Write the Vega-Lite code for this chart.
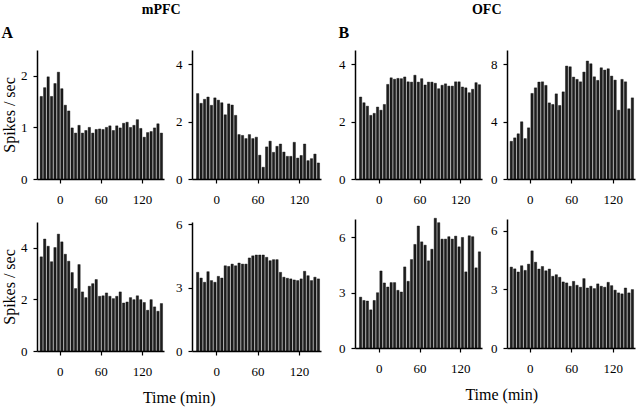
{
"$schema":"https://vega.github.io/schema/vega-lite/v6.json",
"padding":{"left":1,"top":3,"right":3,"bottom":1},
"data":{"values":[
{"p":1,"t0":-30,"t1":-25,"r":1.6},{"p":1,"t0":-25,"t1":-20,"r":1.77},{"p":1,"t0":-20,"t1":-15,"r":1.98},{"p":1,"t0":-15,"t1":-10,"r":1.6},{"p":1,"t0":-10,"t1":-5,"r":1.85},{"p":1,"t0":-5,"t1":0,"r":2.07},{"p":1,"t0":0,"t1":5,"r":1.75},{"p":1,"t0":5,"t1":10,"r":1.43},{"p":1,"t0":10,"t1":15,"r":1.32},{"p":1,"t0":15,"t1":20,"r":0.99},{"p":1,"t0":20,"t1":25,"r":0.89},{"p":1,"t0":25,"t1":30,"r":1.04},{"p":1,"t0":30,"t1":35,"r":0.89},{"p":1,"t0":35,"t1":40,"r":0.94},{"p":1,"t0":40,"t1":45,"r":1.0},{"p":1,"t0":45,"t1":50,"r":0.89},{"p":1,"t0":50,"t1":55,"r":0.96},{"p":1,"t0":55,"t1":60,"r":0.97},{"p":1,"t0":60,"t1":65,"r":0.96},{"p":1,"t0":65,"t1":70,"r":1.0},{"p":1,"t0":70,"t1":75,"r":1.03},{"p":1,"t0":75,"t1":80,"r":0.94},{"p":1,"t0":80,"t1":85,"r":1.03},{"p":1,"t0":85,"t1":90,"r":0.99},{"p":1,"t0":90,"t1":95,"r":1.08},{"p":1,"t0":95,"t1":100,"r":1.1},{"p":1,"t0":100,"t1":105,"r":1.0},{"p":1,"t0":105,"t1":110,"r":1.04},{"p":1,"t0":110,"t1":115,"r":1.15},{"p":1,"t0":115,"t1":120,"r":0.98},{"p":1,"t0":120,"t1":125,"r":0.81},{"p":1,"t0":125,"t1":130,"r":0.9},{"p":1,"t0":130,"t1":135,"r":0.92},{"p":1,"t0":135,"t1":140,"r":0.99},{"p":1,"t0":140,"t1":145,"r":1.07},{"p":1,"t0":145,"t1":150,"r":0.89},
{"p":2,"t0":-30,"t1":-25,"r":2.98},{"p":2,"t0":-25,"t1":-20,"r":2.64},{"p":2,"t0":-20,"t1":-15,"r":2.78},{"p":2,"t0":-15,"t1":-10,"r":2.86},{"p":2,"t0":-10,"t1":-5,"r":2.57},{"p":2,"t0":-5,"t1":0,"r":2.83},{"p":2,"t0":0,"t1":5,"r":2.75},{"p":2,"t0":5,"t1":10,"r":2.66},{"p":2,"t0":10,"t1":15,"r":2.24},{"p":2,"t0":15,"t1":20,"r":2.62},{"p":2,"t0":20,"t1":25,"r":2.58},{"p":2,"t0":25,"t1":30,"r":2.22},{"p":2,"t0":30,"t1":35,"r":1.55},{"p":2,"t0":35,"t1":40,"r":1.52},{"p":2,"t0":40,"t1":45,"r":1.41},{"p":2,"t0":45,"t1":50,"r":1.55},{"p":2,"t0":50,"t1":55,"r":1.41},{"p":2,"t0":55,"t1":60,"r":1.46},{"p":2,"t0":60,"t1":65,"r":0.83},{"p":2,"t0":65,"t1":70,"r":0.41},{"p":2,"t0":70,"t1":75,"r":1.12},{"p":2,"t0":75,"t1":80,"r":1.32},{"p":2,"t0":80,"t1":85,"r":0.93},{"p":2,"t0":85,"t1":90,"r":1.14},{"p":2,"t0":90,"t1":95,"r":1.22},{"p":2,"t0":95,"t1":100,"r":0.94},{"p":2,"t0":100,"t1":105,"r":0.79},{"p":2,"t0":105,"t1":110,"r":0.79},{"p":2,"t0":110,"t1":115,"r":1.28},{"p":2,"t0":115,"t1":120,"r":0.73},{"p":2,"t0":120,"t1":125,"r":0.82},{"p":2,"t0":125,"t1":130,"r":1.22},{"p":2,"t0":130,"t1":135,"r":0.64},{"p":2,"t0":135,"t1":140,"r":0.71},{"p":2,"t0":140,"t1":145,"r":0.87},{"p":2,"t0":145,"t1":150,"r":0.56},
{"p":3,"t0":-30,"t1":-25,"r":2.86},{"p":3,"t0":-25,"t1":-20,"r":2.66},{"p":3,"t0":-20,"t1":-15,"r":2.54},{"p":3,"t0":-15,"t1":-10,"r":2.22},{"p":3,"t0":-10,"t1":-5,"r":2.29},{"p":3,"t0":-5,"t1":0,"r":2.51},{"p":3,"t0":0,"t1":5,"r":2.4},{"p":3,"t0":5,"t1":10,"r":2.6},{"p":3,"t0":10,"t1":15,"r":3.3},{"p":3,"t0":15,"t1":20,"r":3.53},{"p":3,"t0":20,"t1":25,"r":3.48},{"p":3,"t0":25,"t1":30,"r":3.51},{"p":3,"t0":30,"t1":35,"r":3.5},{"p":3,"t0":35,"t1":40,"r":3.56},{"p":3,"t0":40,"t1":45,"r":3.39},{"p":3,"t0":45,"t1":50,"r":3.38},{"p":3,"t0":50,"t1":55,"r":3.62},{"p":3,"t0":55,"t1":60,"r":3.38},{"p":3,"t0":60,"t1":65,"r":3.5},{"p":3,"t0":65,"t1":70,"r":3.28},{"p":3,"t0":70,"t1":75,"r":3.38},{"p":3,"t0":75,"t1":80,"r":3.38},{"p":3,"t0":80,"t1":85,"r":3.34},{"p":3,"t0":85,"t1":90,"r":3.15},{"p":3,"t0":90,"t1":95,"r":3.27},{"p":3,"t0":95,"t1":100,"r":3.32},{"p":3,"t0":100,"t1":105,"r":3.24},{"p":3,"t0":105,"t1":110,"r":3.24},{"p":3,"t0":110,"t1":115,"r":3.39},{"p":3,"t0":115,"t1":120,"r":3.39},{"p":3,"t0":120,"t1":125,"r":3.21},{"p":3,"t0":125,"t1":130,"r":3.18},{"p":3,"t0":130,"t1":135,"r":3.01},{"p":3,"t0":135,"t1":140,"r":3.13},{"p":3,"t0":140,"t1":145,"r":3.36},{"p":3,"t0":145,"t1":150,"r":3.29},
{"p":4,"t0":-30,"t1":-25,"r":2.63},{"p":4,"t0":-25,"t1":-20,"r":2.87},{"p":4,"t0":-20,"t1":-15,"r":3.15},{"p":4,"t0":-15,"t1":-10,"r":3.99},{"p":4,"t0":-10,"t1":-5,"r":2.82},{"p":4,"t0":-5,"t1":0,"r":3.57},{"p":4,"t0":0,"t1":5,"r":5.97},{"p":4,"t0":5,"t1":10,"r":6.36},{"p":4,"t0":10,"t1":15,"r":6.76},{"p":4,"t0":15,"t1":20,"r":6.78},{"p":4,"t0":20,"t1":25,"r":6.53},{"p":4,"t0":25,"t1":30,"r":5.31},{"p":4,"t0":30,"t1":35,"r":5.2},{"p":4,"t0":35,"t1":40,"r":5.94},{"p":4,"t0":40,"t1":45,"r":5.13},{"p":4,"t0":45,"t1":50,"r":6.08},{"p":4,"t0":50,"t1":55,"r":7.88},{"p":4,"t0":55,"t1":60,"r":7.83},{"p":4,"t0":60,"t1":65,"r":7.11},{"p":4,"t0":65,"t1":70,"r":6.95},{"p":4,"t0":70,"t1":75,"r":6.78},{"p":4,"t0":75,"t1":80,"r":7.46},{"p":4,"t0":80,"t1":85,"r":8.23},{"p":4,"t0":85,"t1":90,"r":8.04},{"p":4,"t0":90,"t1":95,"r":7.13},{"p":4,"t0":95,"t1":100,"r":6.88},{"p":4,"t0":100,"t1":105,"r":7.76},{"p":4,"t0":105,"t1":110,"r":7.6},{"p":4,"t0":110,"t1":115,"r":7.69},{"p":4,"t0":115,"t1":120,"r":7.18},{"p":4,"t0":120,"t1":125,"r":6.9},{"p":4,"t0":125,"t1":130,"r":4.8},{"p":4,"t0":130,"t1":135,"r":6.95},{"p":4,"t0":135,"t1":140,"r":6.78},{"p":4,"t0":140,"t1":145,"r":4.9},{"p":4,"t0":145,"t1":150,"r":5.66},
{"p":5,"t0":-30,"t1":-25,"r":3.65},{"p":5,"t0":-25,"t1":-20,"r":4.34},{"p":5,"t0":-20,"t1":-15,"r":4.06},{"p":5,"t0":-15,"t1":-10,"r":3.46},{"p":5,"t0":-10,"t1":-5,"r":4.01},{"p":5,"t0":-5,"t1":0,"r":4.53},{"p":5,"t0":0,"t1":5,"r":4.23},{"p":5,"t0":5,"t1":10,"r":3.75},{"p":5,"t0":10,"t1":15,"r":3.48},{"p":5,"t0":15,"t1":20,"r":3.04},{"p":5,"t0":20,"t1":25,"r":2.42},{"p":5,"t0":25,"t1":30,"r":3.35},{"p":5,"t0":30,"t1":35,"r":2.29},{"p":5,"t0":35,"t1":40,"r":2.07},{"p":5,"t0":40,"t1":45,"r":2.51},{"p":5,"t0":45,"t1":50,"r":2.61},{"p":5,"t0":50,"t1":55,"r":2.77},{"p":5,"t0":55,"t1":60,"r":2.12},{"p":5,"t0":60,"t1":65,"r":2.14},{"p":5,"t0":65,"t1":70,"r":2.25},{"p":5,"t0":70,"t1":75,"r":2.12},{"p":5,"t0":75,"t1":80,"r":2.03},{"p":5,"t0":80,"t1":85,"r":2.12},{"p":5,"t0":85,"t1":90,"r":2.29},{"p":5,"t0":90,"t1":95,"r":1.86},{"p":5,"t0":95,"t1":100,"r":1.9},{"p":5,"t0":100,"t1":105,"r":2.07},{"p":5,"t0":105,"t1":110,"r":1.99},{"p":5,"t0":110,"t1":115,"r":2.14},{"p":5,"t0":115,"t1":120,"r":1.99},{"p":5,"t0":120,"t1":125,"r":1.88},{"p":5,"t0":125,"t1":130,"r":1.58},{"p":5,"t0":130,"t1":135,"r":1.99},{"p":5,"t0":135,"t1":140,"r":1.71},{"p":5,"t0":140,"t1":145,"r":1.54},{"p":5,"t0":145,"t1":150,"r":1.84},
{"p":6,"t0":-30,"t1":-25,"r":3.72},{"p":6,"t0":-25,"t1":-20,"r":3.45},{"p":6,"t0":-20,"t1":-15,"r":3.25},{"p":6,"t0":-15,"t1":-10,"r":3.75},{"p":6,"t0":-10,"t1":-5,"r":3.33},{"p":6,"t0":-5,"t1":0,"r":3.25},{"p":6,"t0":0,"t1":5,"r":3.53},{"p":6,"t0":5,"t1":10,"r":3.45},{"p":6,"t0":10,"t1":15,"r":4.03},{"p":6,"t0":15,"t1":20,"r":4.0},{"p":6,"t0":20,"t1":25,"r":4.11},{"p":6,"t0":25,"t1":30,"r":4.03},{"p":6,"t0":30,"t1":35,"r":4.16},{"p":6,"t0":35,"t1":40,"r":4.11},{"p":6,"t0":40,"t1":45,"r":4.11},{"p":6,"t0":45,"t1":50,"r":4.4},{"p":6,"t0":50,"t1":55,"r":4.5},{"p":6,"t0":55,"t1":60,"r":4.54},{"p":6,"t0":60,"t1":65,"r":4.54},{"p":6,"t0":65,"t1":70,"r":4.54},{"p":6,"t0":70,"t1":75,"r":4.43},{"p":6,"t0":75,"t1":80,"r":4.27},{"p":6,"t0":80,"t1":85,"r":4.32},{"p":6,"t0":85,"t1":90,"r":4.32},{"p":6,"t0":90,"t1":95,"r":3.72},{"p":6,"t0":95,"t1":100,"r":3.49},{"p":6,"t0":100,"t1":105,"r":3.44},{"p":6,"t0":105,"t1":110,"r":3.41},{"p":6,"t0":110,"t1":115,"r":3.36},{"p":6,"t0":115,"t1":120,"r":3.33},{"p":6,"t0":120,"t1":125,"r":3.41},{"p":6,"t0":125,"t1":130,"r":3.77},{"p":6,"t0":130,"t1":135,"r":3.56},{"p":6,"t0":135,"t1":140,"r":3.33},{"p":6,"t0":140,"t1":145,"r":3.49},{"p":6,"t0":145,"t1":150,"r":3.41},
{"p":7,"t0":-30,"t1":-25,"r":2.76},{"p":7,"t0":-25,"t1":-20,"r":2.58},{"p":7,"t0":-20,"t1":-15,"r":2.55},{"p":7,"t0":-15,"t1":-10,"r":2.07},{"p":7,"t0":-10,"t1":-5,"r":2.58},{"p":7,"t0":-5,"t1":0,"r":3.0},{"p":7,"t0":0,"t1":5,"r":4.18},{"p":7,"t0":5,"t1":10,"r":3.53},{"p":7,"t0":10,"t1":15,"r":3.31},{"p":7,"t0":15,"t1":20,"r":3.55},{"p":7,"t0":20,"t1":25,"r":3.55},{"p":7,"t0":25,"t1":30,"r":3.13},{"p":7,"t0":30,"t1":35,"r":3.04},{"p":7,"t0":35,"t1":40,"r":4.4},{"p":7,"t0":40,"t1":45,"r":3.62},{"p":7,"t0":45,"t1":50,"r":4.8},{"p":7,"t0":50,"t1":55,"r":5.62},{"p":7,"t0":55,"t1":60,"r":6.62},{"p":7,"t0":60,"t1":65,"r":5.76},{"p":7,"t0":65,"t1":70,"r":5.58},{"p":7,"t0":70,"t1":75,"r":4.73},{"p":7,"t0":75,"t1":80,"r":5.36},{"p":7,"t0":80,"t1":85,"r":7.04},{"p":7,"t0":85,"t1":90,"r":6.8},{"p":7,"t0":90,"t1":95,"r":5.91},{"p":7,"t0":95,"t1":100,"r":5.91},{"p":7,"t0":100,"t1":105,"r":6.04},{"p":7,"t0":105,"t1":110,"r":5.91},{"p":7,"t0":110,"t1":115,"r":6.07},{"p":7,"t0":115,"t1":120,"r":5.49},{"p":7,"t0":120,"t1":125,"r":6.0},{"p":7,"t0":125,"t1":130,"r":4.13},{"p":7,"t0":130,"t1":135,"r":6.09},{"p":7,"t0":135,"t1":140,"r":6.04},{"p":7,"t0":140,"t1":145,"r":4.35},{"p":7,"t0":145,"t1":150,"r":5.22},
{"p":8,"t0":-30,"t1":-25,"r":4.14},{"p":8,"t0":-25,"t1":-20,"r":4.05},{"p":8,"t0":-20,"t1":-15,"r":3.89},{"p":8,"t0":-15,"t1":-10,"r":4.21},{"p":8,"t0":-10,"t1":-5,"r":3.97},{"p":8,"t0":-5,"t1":0,"r":4.29},{"p":8,"t0":0,"t1":5,"r":4.97},{"p":8,"t0":5,"t1":10,"r":4.39},{"p":8,"t0":10,"t1":15,"r":4.04},{"p":8,"t0":15,"t1":20,"r":4.17},{"p":8,"t0":20,"t1":25,"r":3.95},{"p":8,"t0":25,"t1":30,"r":4.04},{"p":8,"t0":30,"t1":35,"r":3.67},{"p":8,"t0":35,"t1":40,"r":3.75},{"p":8,"t0":40,"t1":45,"r":3.62},{"p":8,"t0":45,"t1":50,"r":3.38},{"p":8,"t0":50,"t1":55,"r":3.33},{"p":8,"t0":55,"t1":60,"r":3.16},{"p":8,"t0":60,"t1":65,"r":3.41},{"p":8,"t0":65,"t1":70,"r":3.21},{"p":8,"t0":70,"t1":75,"r":3.11},{"p":8,"t0":75,"t1":80,"r":3.55},{"p":8,"t0":80,"t1":85,"r":3.07},{"p":8,"t0":85,"t1":90,"r":3.16},{"p":8,"t0":90,"t1":95,"r":3.04},{"p":8,"t0":95,"t1":100,"r":3.28},{"p":8,"t0":100,"t1":105,"r":3.16},{"p":8,"t0":105,"t1":110,"r":3.11},{"p":8,"t0":110,"t1":115,"r":3.36},{"p":8,"t0":115,"t1":120,"r":3.19},{"p":8,"t0":120,"t1":125,"r":2.96},{"p":8,"t0":125,"t1":130,"r":2.82},{"p":8,"t0":130,"t1":135,"r":2.77},{"p":8,"t0":135,"t1":140,"r":3.07},{"p":8,"t0":140,"t1":145,"r":2.82},{"p":8,"t0":145,"t1":150,"r":2.99}
]},
"config":{
 "view":{"stroke":null},
 "font":"Liberation Serif",
 "axis":{"grid":false,"domain":true,"ticks":true,"domainColor":"black","tickColor":"black","labelColor":"black","labelFont":"Liberation Serif","labelFontSize":13,"titleFont":"Liberation Serif","titleFontSize":16,"titleFontWeight":"normal","titleColor":"black","tickSize":4,"domainWidth":1.5,"tickWidth":1.2},
 "axisX":{"labelPadding":10,"labelFlush":false},
 "axisY":{"labelPadding":6,"titlePadding":3},
 "title":{"font":"Liberation Serif","color":"black"},
 "bar":{"fill":"#1e1e1e","stroke":"black","strokeWidth":0.4,"binSpacing":1.1}
},
"spacing":17,
"hconcat":[
 {"title":{"text":"mPFC","fontSize":14,"fontWeight":"bold","anchor":"middle","offset":8},
  "vconcat":[
   {"title":{"text":"Time (min)","orient":"bottom","fontSize":16,"fontWeight":"normal","anchor":"middle","dx":18,"offset":12},
    "spacing":12,
    "vconcat":[
     {"title":{"text":"A","fontSize":16,"fontWeight":"bold","anchor":"start","offset":9},"spacing":11,"hconcat":[
       {"width":127,"height":129,"transform":[{"filter":"datum.p==1"}],"mark":"bar",
        "encoding":{"x":{"field":"t0","type":"quantitative","bin":{"binned":true},"scale":{"domain":[-33,152]},"axis":{"values":[0,60,120],"title":null}},"x2":{"field":"t1"},
        "y":{"field":"r","type":"quantitative","scale":{"domain":[0,2.5]},"axis":{"values":[0,1,2],"title":"Spikes / sec"}}}},
       {"width":129,"height":129,"transform":[{"filter":"datum.p==2"}],"mark":"bar",
        "encoding":{"x":{"field":"t0","type":"quantitative","bin":{"binned":true},"scale":{"domain":[-35,152]},"axis":{"values":[0,60,120],"title":null}},"x2":{"field":"t1"},
        "y":{"field":"r","type":"quantitative","scale":{"domain":[0,4.5]},"axis":{"values":[0,2,4],"title":null}}}}
     ]},
     {"spacing":11,"hconcat":[
       {"width":127,"height":129,"transform":[{"filter":"datum.p==5"}],"mark":"bar",
        "encoding":{"x":{"field":"t0","type":"quantitative","bin":{"binned":true},"scale":{"domain":[-33,152]},"axis":{"values":[0,60,120],"title":null}},"x2":{"field":"t1"},
        "y":{"field":"r","type":"quantitative","scale":{"domain":[0,5]},"axis":{"values":[0,2,4],"title":"Spikes / sec"}}}},
       {"width":129,"height":129,"transform":[{"filter":"datum.p==6"}],"mark":"bar",
        "encoding":{"x":{"field":"t0","type":"quantitative","bin":{"binned":true},"scale":{"domain":[-35,152]},"axis":{"values":[0,60,120],"title":null}},"x2":{"field":"t1"},
        "y":{"field":"r","type":"quantitative","scale":{"domain":[0,6.1]},"axis":{"values":[0,3,6],"title":null}}}}
     ]}
    ]}
  ]},
 {"title":{"text":"OFC","fontSize":14,"fontWeight":"bold","anchor":"middle","offset":8},
  "vconcat":[
   {"title":{"text":"Time (min)","orient":"bottom","fontSize":16,"fontWeight":"normal","anchor":"middle","dx":15,"offset":12},
    "spacing":12,
    "vconcat":[
     {"title":{"text":"B","fontSize":16,"fontWeight":"bold","anchor":"start","offset":9},"spacing":8,"hconcat":[
       {"width":127,"height":129,"transform":[{"filter":"datum.p==3"}],"mark":"bar",
        "encoding":{"x":{"field":"t0","type":"quantitative","bin":{"binned":true},"scale":{"domain":[-35,152]},"axis":{"values":[0,60,120],"title":null}},"x2":{"field":"t1"},
        "y":{"field":"r","type":"quantitative","scale":{"domain":[0,4.5]},"axis":{"values":[0,2,4],"title":null}}}},
       {"width":128,"height":129,"transform":[{"filter":"datum.p==4"}],"mark":"bar",
        "encoding":{"x":{"field":"t0","type":"quantitative","bin":{"binned":true},"scale":{"domain":[-33,152]},"axis":{"values":[0,60,120],"title":null}},"x2":{"field":"t1"},
        "y":{"field":"r","type":"quantitative","scale":{"domain":[0,9]},"axis":{"values":[0,4,8],"title":null}}}}
     ]},
     {"spacing":8,"hconcat":[
       {"width":127,"height":129,"transform":[{"filter":"datum.p==7"}],"mark":"bar",
        "encoding":{"x":{"field":"t0","type":"quantitative","bin":{"binned":true},"scale":{"domain":[-35,152]},"axis":{"values":[0,60,120],"title":null}},"x2":{"field":"t1"},
        "y":{"field":"r","type":"quantitative","scale":{"domain":[0,7]},"axis":{"values":[0,3,6],"title":null}}}},
       {"width":128,"height":129,"transform":[{"filter":"datum.p==8"}],"mark":"bar",
        "encoding":{"x":{"field":"t0","type":"quantitative","bin":{"binned":true},"scale":{"domain":[-33,152]},"axis":{"values":[0,60,120],"title":null}},"x2":{"field":"t1"},
        "y":{"field":"r","type":"quantitative","scale":{"domain":[0,6.6]},"axis":{"values":[0,3,6],"title":null}}}}
     ]}
    ]}
  ]}
]
}
